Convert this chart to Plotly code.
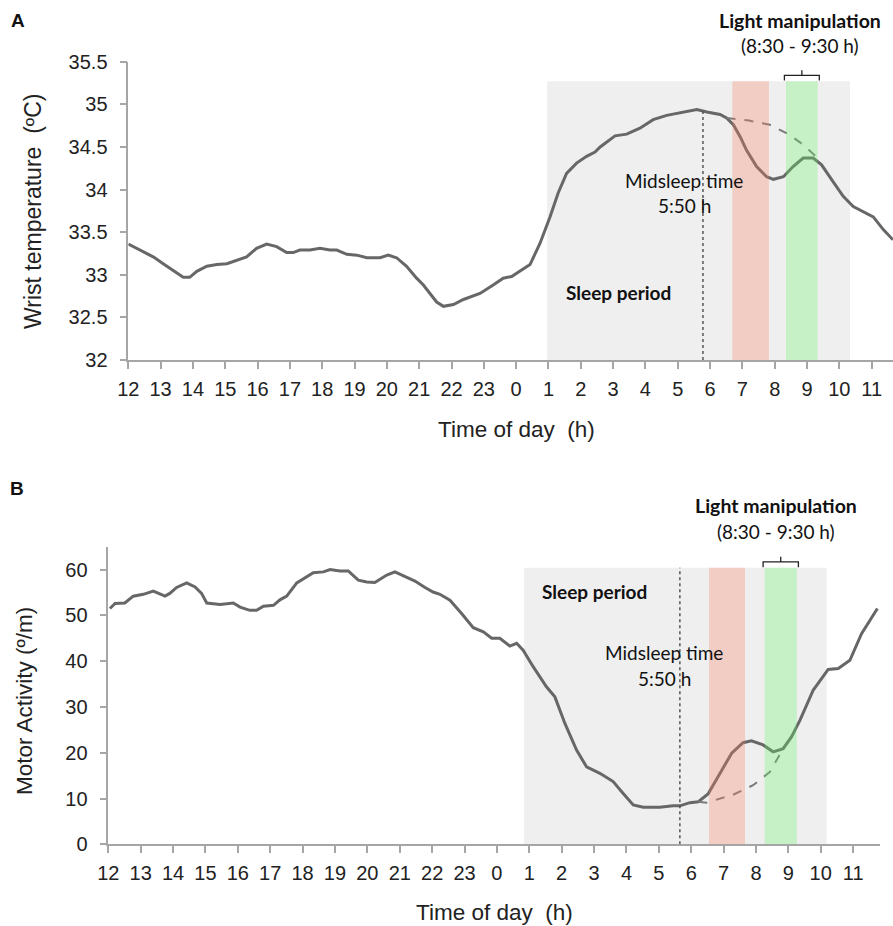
import plotly.graph_objects as go

W, H = 893, 926

# ---------------- data ----------------
hour_labels = ["12", "13", "14", "15", "16", "17", "18", "19", "20", "21", "22", "23",
               "0", "1", "2", "3", "4", "5", "6", "7", "8", "9", "10", "11"]
hour_pos = list(range(24))  # hours since 12:00

# Panel A: wrist temperature
time_a = [0.0, 0.46, 0.77, 1.08, 1.39, 1.70, 1.90, 2.12, 2.43, 2.74, 3.05, 3.35, 3.66, 3.97,
          4.28, 4.59, 4.90, 5.10, 5.31, 5.62, 5.93, 6.24, 6.45, 6.76, 7.07, 7.38, 7.79, 8.04,
          8.30, 8.61, 8.92, 9.13, 9.34, 9.54, 9.75, 10.06, 10.37, 10.88, 11.29, 11.60, 11.86,
          12.12, 12.43, 12.74, 13.05, 13.30, 13.56, 13.87, 14.18, 14.44, 14.60, 15.06, 15.42,
          15.83, 16.24, 16.66, 17.07, 17.59, 17.90, 18.31, 18.51, 18.72, 18.93, 19.13, 19.44,
          19.75, 19.96, 20.27, 20.57, 20.88, 21.19, 21.45, 21.81, 22.12, 22.43, 23.05, 23.36, 23.66]
temp_a = [33.36, 33.27, 33.21, 33.13, 33.05, 32.97, 32.97, 33.04, 33.10, 33.12, 33.13, 33.17,
          33.21, 33.31, 33.36, 33.33, 33.26, 33.26, 33.29, 33.29, 33.31, 33.29, 33.29, 33.24,
          33.23, 33.20, 33.20, 33.23, 33.20, 33.10, 32.96, 32.88, 32.78, 32.68, 32.63, 32.65,
          32.71, 32.78, 32.88, 32.96, 32.98, 33.04, 33.12, 33.37, 33.68, 33.96, 34.19, 34.31,
          34.39, 34.44, 34.50, 34.63, 34.65, 34.72, 34.82, 34.87, 34.90, 34.94, 34.91, 34.88,
          34.84, 34.76, 34.62, 34.46, 34.27, 34.15, 34.12, 34.15, 34.27, 34.37, 34.37, 34.29,
          34.09, 33.92, 33.80, 33.68, 33.53, 33.41]
time_a_dash = [18.51, 19.20, 19.85, 20.47, 20.90, 21.30]
temp_a_dash = [34.84, 34.81, 34.76, 34.64, 34.52, 34.38]
temp_ticks = [32, 32.5, 33, 33.5, 34, 34.5, 35, 35.5]
temp_tick_labels = ["32", "32.5", "33", "33.5", "34", "34.5", "35", "35.5"]

# Panel A periods (hours since 12:00)
sleep_a = [12.96, 22.33]
red_a = [18.69, 19.82]
green_a = [20.35, 21.33]
midsleep_a = 17.78
top_a = 35.27

# Panel B: motor activity
time_b = [0.05, 0.21, 0.51, 0.77, 1.08, 1.39, 1.75, 1.90, 2.11, 2.42, 2.68, 2.88, 3.04, 3.45,
          3.86, 4.07, 4.37, 4.58, 4.79, 5.10, 5.30, 5.51, 5.82, 6.12, 6.33, 6.64, 6.85, 7.15,
          7.41, 7.72, 7.98, 8.23, 8.60, 8.85, 9.16, 9.47, 9.78, 10.03, 10.24, 10.55, 10.91,
          11.27, 11.58, 11.84, 12.09, 12.40, 12.61, 12.81, 13.12, 13.53, 13.79, 14.10, 14.46,
          14.77, 15.18, 15.59, 15.90, 16.21, 16.52, 17.03, 17.44, 17.65, 17.96, 18.22, 18.52,
          18.88, 19.25, 19.60, 19.86, 20.22, 20.53, 20.84, 21.10, 21.36, 21.77, 22.23, 22.54,
          22.90, 23.26, 23.75]
act_b = [51.5, 52.6, 52.7, 54.2, 54.6, 55.3, 54.2, 54.8, 56.1, 57.1, 56.2, 54.8, 52.7, 52.4,
         52.7, 51.8, 51.1, 51.1, 52.0, 52.2, 53.4, 54.2, 57.1, 58.4, 59.3, 59.5, 60.0, 59.7,
         59.7, 57.7, 57.3, 57.2, 58.8, 59.5, 58.5, 57.5, 56.1, 55.1, 54.6, 53.3, 50.4,
         47.3, 46.4, 45.0, 45.0, 43.3, 43.9, 42.4, 38.8, 34.4, 32.2, 26.4, 20.6,
         16.9, 15.5, 13.7, 11.1, 8.6, 8.1, 8.1, 8.4, 8.4, 9.1, 9.3, 11.0,
         15.5, 19.9, 22.2, 22.6, 21.7, 20.2, 20.9, 23.5, 27.1, 33.7, 38.2, 38.4,
         40.2, 46.0, 51.5]
time_b_dash = [18.22, 18.47, 19.29, 19.91, 20.43, 20.80]
act_b_dash = [9.3, 9.1, 10.8, 12.9, 15.8, 20.4]
act_ticks = [0, 10, 20, 30, 40, 50, 60]

sleep_b = [12.84, 22.18]
red_b = [18.55, 19.66]
green_b = [20.27, 21.26]
midsleep_b = 17.65
top_b = 60.4

# ---------------- helpers ----------------
def px(x):
    return x / W

def py(y):
    return 1 - y / H

LINE = "#676767"
AXIS = "#a6a6a6"
GRAY = "#efefef"
RED = "rgba(249,126,96,0.30)"
GREEN = "rgba(102,242,102,0.30)"
AX = "Liberation Sans, Arial, sans-serif"
TICKFONT = dict(family=AX, size=20, color="#222")
ANNFONT = "Lato, Noto Sans, sans-serif"

fig = go.Figure()

fig.add_trace(go.Scatter(x=time_a, y=temp_a, mode="lines", line=dict(color=LINE, width=3),
                         xaxis="x", yaxis="y", showlegend=False, hoverinfo="skip"))
fig.add_trace(go.Scatter(x=time_a_dash, y=temp_a_dash, mode="lines",
                         line=dict(color="#7a7a7a", width=2, dash="dash"),
                         xaxis="x", yaxis="y", showlegend=False, hoverinfo="skip"))
fig.add_trace(go.Scatter(x=time_b, y=act_b, mode="lines", line=dict(color=LINE, width=3),
                         xaxis="x2", yaxis="y2", showlegend=False, hoverinfo="skip"))
fig.add_trace(go.Scatter(x=time_b_dash, y=act_b_dash, mode="lines",
                         line=dict(color="#7a7a7a", width=2, dash="dash"),
                         xaxis="x2", yaxis="y2", showlegend=False, hoverinfo="skip"))

shapes = []
def bands(xr, yr, sleep, red, green, mid, top, ymin, bracket_y):
    shapes.append(dict(type="rect", xref=xr, yref=yr, x0=sleep[0], x1=sleep[1], y0=ymin, y1=top,
                       fillcolor=GRAY, line=dict(width=0), layer="below"))
    shapes.append(dict(type="rect", xref=xr, yref=yr, x0=red[0], x1=red[1], y0=ymin, y1=top,
                       fillcolor=RED, line=dict(width=0), layer="above"))
    shapes.append(dict(type="rect", xref=xr, yref=yr, x0=green[0], x1=green[1], y0=ymin, y1=top,
                       fillcolor=GREEN, line=dict(width=0), layer="above"))
    b0, b1, b2 = bracket_y
    xc = (green[0] + green[1]) / 2
    shapes.append(dict(type="path", xref=xr, yref=yr,
                       path=f"M {green[0]-0.05},{b0} L {green[0]-0.05},{b1} L {green[1]+0.05},{b1} "
                            f"L {green[1]+0.05},{b0} M {xc},{b1} L {xc},{b2}",
                       line=dict(color="#222", width=1.3), layer="above"))

bands("x", "y", sleep_a, red_a, green_a, midsleep_a, top_a, 32, (35.28, 35.34, 35.40))
shapes.append(dict(type="line", xref="x", yref="y", x0=midsleep_a, x1=midsleep_a, y0=32, y1=34.93,
                   line=dict(color="#555", width=1.5, dash="dot"), layer="above"))
bands("x2", "y2", sleep_b, red_b, green_b, midsleep_b, top_b, 0, (60.5, 61.7, 62.8))
shapes.append(dict(type="line", xref="x2", yref="y2", x0=midsleep_b, x1=midsleep_b, y0=0, y1=top_b,
                   line=dict(color="#555", width=1.5, dash="dot"), layer="above"))

ann = []
def text(x, y, s, size, bold=False, family=ANNFONT, angle=0, color="#111"):
    ann.append(dict(x=px(x), y=py(y), xref="paper", yref="paper", text=(f"<b>{s}</b>" if bold else s),
                    showarrow=False, xanchor="center", yanchor="middle", textangle=angle,
                    font=dict(family=family, size=size, color=color)))

text(18, 20, "A", 19, bold=True, family=AX)
text(17, 488, "B", 19, bold=True, family=AX)
text(33, 212, "Wrist temperature  (ºC)", 23, family=AX, angle=-90, color="#222")
text(516, 430, "Time of day  (h)", 22.5, family=AX, color="#222")
text(24, 701, "Motor Activity (º/m)", 22.5, family=AX, angle=-90, color="#222")
text(494, 912, "Time of day  (h)", 22.5, family=AX, color="#222")

text(800, 20, "Light manipulation", 19.5, bold=True)
text(800, 45, "(8:30 - 9:30 h)", 19)
text(684, 181, "Midsleep time", 19)
text(684, 206, "5:50 h", 19)
text(618, 292, "Sleep period", 19, bold=True)

text(776, 505, "Light manipulation", 19.5, bold=True)
text(776, 531, "(8:30 - 9:30 h)", 19)
text(664, 652, "Midsleep time", 19)
text(664, 678, "5:50 h", 19)
text(594, 591, "Sleep period", 19, bold=True)

axis_common = dict(showline=True, linecolor=AXIS, linewidth=1.5, ticks="outside", ticklen=7,
                   tickcolor=AXIS, tickwidth=1.5, showgrid=False, zeroline=False,
                   tickfont=TICKFONT, automargin=False, fixedrange=True)

fig.update_layout(
    width=W, height=H, margin=dict(l=0, r=0, t=0, b=0),
    template="none", paper_bgcolor="white", plot_bgcolor="rgba(0,0,0,0)",
    showlegend=False, shapes=shapes, annotations=ann,
    xaxis=dict(domain=[px(128.3), 1.0], range=[0, 23.66], anchor="y",
               tickvals=hour_pos, ticktext=hour_labels, ticklabelstandoff=3, **axis_common),
    yaxis=dict(domain=[py(360), py(61.7)], range=[32, 35.5], anchor="x",
               tickvals=temp_ticks, ticktext=temp_tick_labels, ticklabelstandoff=8, **axis_common),
    xaxis2=dict(domain=[px(108.3), px(880)], range=[0, 23.83], anchor="y2",
                tickvals=hour_pos, ticktext=hour_labels, ticklabelstandoff=3, **axis_common),
    yaxis2=dict(domain=[py(844.3), py(546.7)], range=[0, 65], anchor="x2",
                tickvals=act_ticks, ticklabelstandoff=8, **axis_common),
)

fig.write_html("out.html")
